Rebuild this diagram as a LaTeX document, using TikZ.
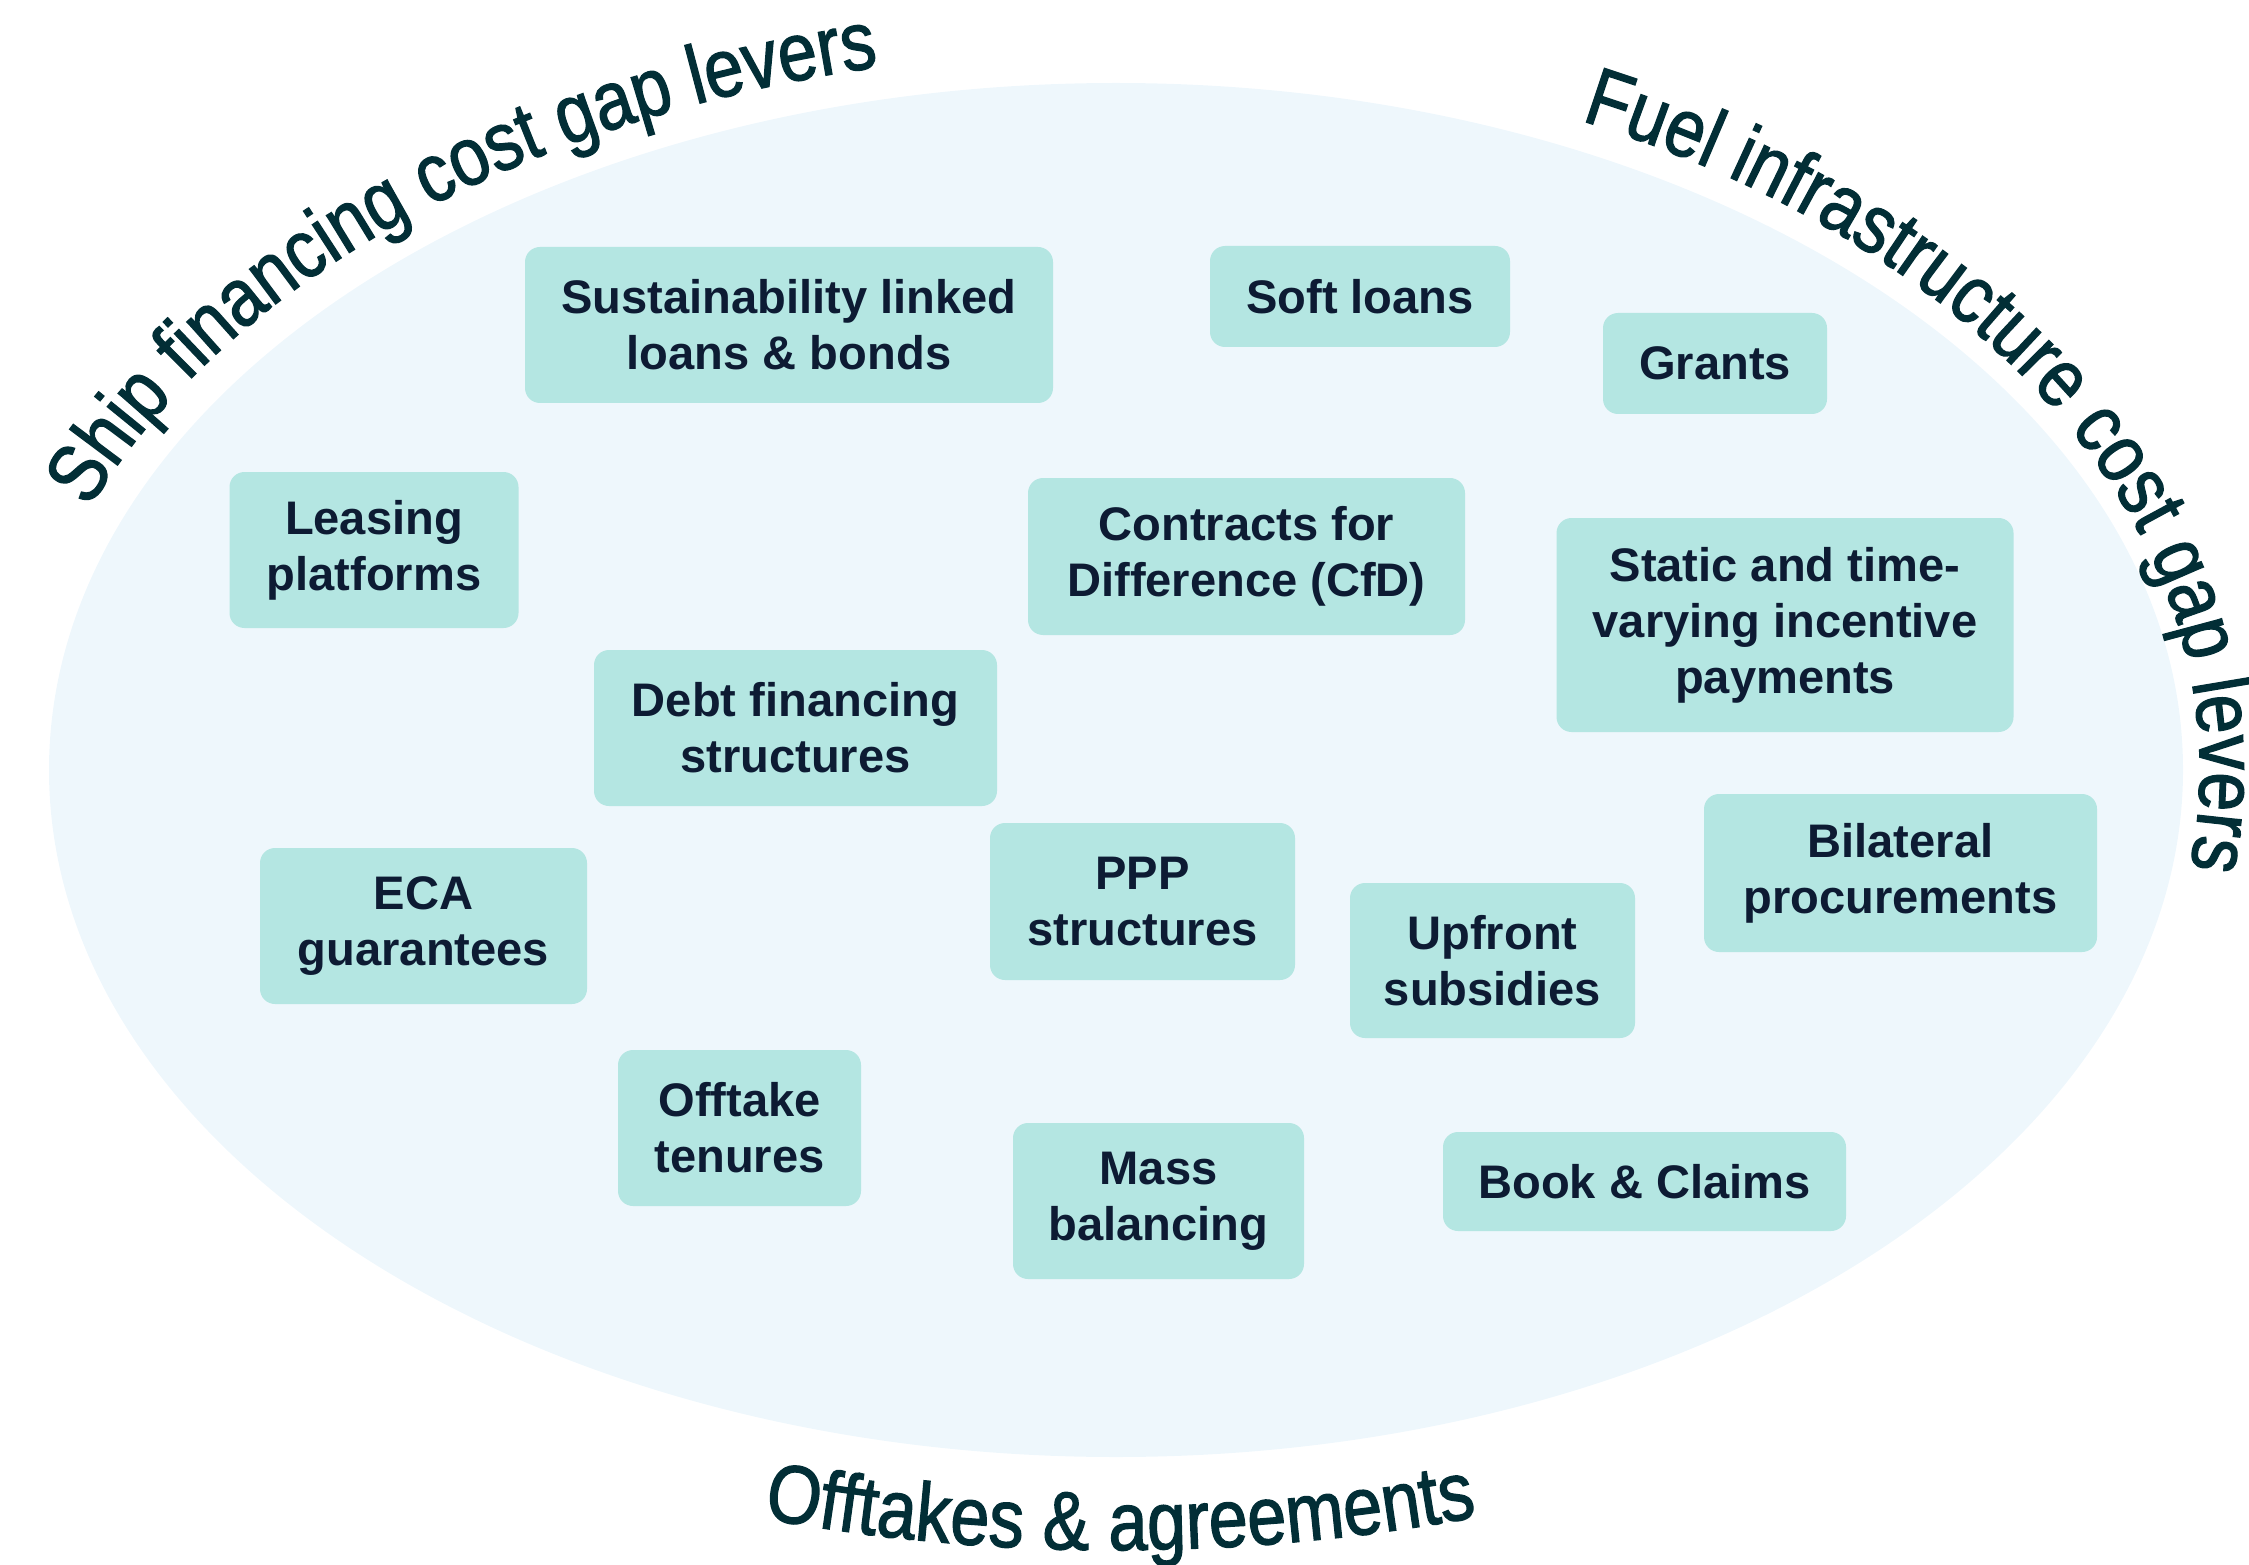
\documentclass[tikz,border=0pt]{standalone}
\usepackage{fontspec}
\setmainfont{Liberation Sans}
\newfontfamily\arcfont[FakeStretch=0.85, FakeBold=1.5]{Liberation Sans}
\usetikzlibrary{decorations.text}
\definecolor{fieldblue}{HTML}{EEF7FC}
\definecolor{boxteal}{HTML}{B4E6E2}
\definecolor{boxtext}{HTML}{0D1B33}
\definecolor{arctext}{HTML}{022E36}

\begin{document}
\begin{tikzpicture}
        \tikzstyle{leverbox}=[rectangle, fill=boxteal, rounded corners=1.5mm, inner sep=0pt, align=center, text=boxtext, font=\fontsize{13.4pt}{15.9pt}\selectfont\bfseries]
        \tikzstyle{arclabel}=[decorate, decoration={text along path, text color=arctext, text align=left}]
        \useasboundingbox (0,0) rectangle (22.49,-15.65);
        \fill[fieldblue] (11.16,-7.70) ellipse [x radius=10.67, y radius=6.87];
        % levers
        \node[leverbox, minimum width=5.28cm, minimum height=1.56cm] (sll) at (7.89,-3.25) {Sustainability linked\\loans \& bonds};
        \node[leverbox, minimum width=3.00cm, minimum height=1.01cm] (soft) at (13.60,-2.965) {Soft loans};
        \node[leverbox, minimum width=2.24cm, minimum height=1.01cm] (grants) at (17.15,-3.635) {Grants};
        \node[leverbox, minimum width=2.89cm, minimum height=1.56cm] (leasing) at (3.74,-5.50) {Leasing\\platforms};
        \node[leverbox, minimum width=4.37cm, minimum height=1.57cm] (cfd) at (12.465,-5.565) {Contracts for\\Difference (CfD)};
        \node[leverbox, minimum width=4.57cm, minimum height=2.14cm] (incentive) at (17.85,-6.25) {Static and time-\\varying incentive\\payments};
        \node[leverbox, minimum width=4.03cm, minimum height=1.56cm] (debt) at (7.955,-7.28) {Debt financing\\structures};
        \node[leverbox, minimum width=3.27cm, minimum height=1.56cm] (eca) at (4.235,-9.26) {ECA\\guarantees};
        \node[leverbox, minimum width=3.05cm, minimum height=1.57cm] (ppp) at (11.425,-9.015) {PPP\\structures};
        \node[leverbox, minimum width=2.85cm, minimum height=1.55cm] (upfront) at (14.925,-9.605) {Upfront\\subsidies};
        \node[leverbox, minimum width=3.93cm, minimum height=1.58cm] (bilateral) at (19.005,-8.73) {Bilateral\\procurements};
        \node[leverbox, minimum width=2.43cm, minimum height=1.56cm] (offtake) at (7.395,-11.28) {Offtake\\tenures};
        \node[leverbox, minimum width=2.91cm, minimum height=1.56cm] (mass) at (11.585,-12.01) {Mass\\balancing};
        \node[leverbox, minimum width=4.03cm, minimum height=0.99cm] (book) at (16.445,-11.815) {Book \& Claims};
        % curved headings
        \path[arclabel, decoration={text={|\arcfont\fontsize{23.5pt}{28pt}\selectfont|Ship financing cost gap levers}}]
          (11.16,-7.70) ++(158.7:11.02cm and 7.20cm) arc[start angle=158.7, end angle=80, x radius=11.02, y radius=7.20];
        \path[arclabel, decoration={text={|\arcfont\fontsize{23.5pt}{28pt}\selectfont|Fuel infrastructure cost gap levers}}]
          (11.16,-7.70) ++(64.6:10.84cm and 7.19cm) arc[start angle=64.6, end angle=-30, x radius=10.84, y radius=7.19];
        \path[arclabel, decoration={text={|\arcfont\fontsize{23.5pt}{28pt}\selectfont|Offtakes {\&} agreements}}]
          (11.16,-7.70) ++(253.6:12.50cm and 7.80cm) arc[start angle=253.6, end angle=300, x radius=12.50, y radius=7.80];
\end{tikzpicture}
\end{document}
